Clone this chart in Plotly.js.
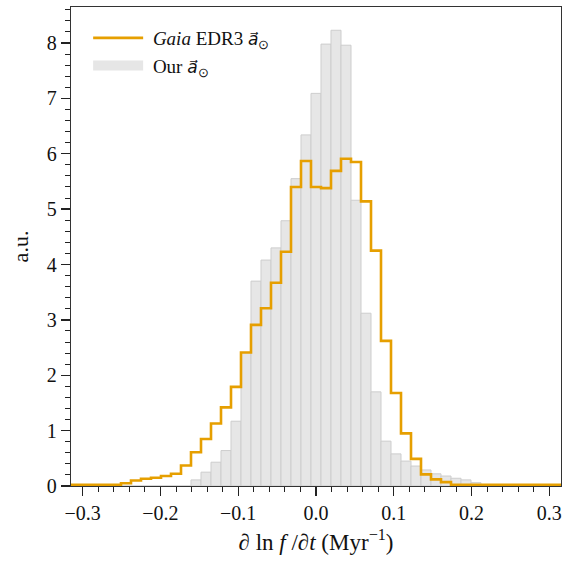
<!DOCTYPE html>
<html>
<head>
<meta charset="utf-8">
<script src="https://cdn.plot.ly/plotly-3.0.1.min.js"></script>
<style>html,body{margin:0;padding:0;background:#fff;}#chart{width:566px;height:563px;}</style>
</head>
<body>
<div id="chart"></div>
<script>
// Histogram binning (49 equal bins across the range)
const binStart = -0.315;
const binEnd = 0.315;
const nBins = 49;

// "Our a_sun" histogram heights (grey bars), one per bin
const ourValues = [
  0, 0, 0, 0, 0, 0, 0, 0, 0, 0,
  0, 0, 0.11, 0.25, 0.43, 0.64, 1.17, 2.41, 3.70, 4.08,
  4.30, 4.79, 5.55, 6.34, 7.09, 7.98, 8.23, 7.96, 5.16, 3.12,
  1.70, 0.81, 0.58, 0.45, 0.36, 0.29, 0.22, 0.18, 0.14, 0.11,
  0.06, 0.02, 0, 0, 0, 0, 0, 0, 0
];

// "Gaia EDR3 a_sun" histogram heights (orange step), one per bin
const gaiaValues = [
  0.02, 0.02, 0.02, 0.02, 0.02, 0.05, 0.10, 0.13, 0.15, 0.18,
  0.22, 0.37, 0.61, 0.85, 1.13, 1.42, 1.79, 2.41, 2.91, 3.21,
  3.67, 4.23, 5.40, 5.87, 5.40, 5.38, 5.69, 5.91, 5.85, 5.14,
  4.25, 2.62, 1.68, 0.95, 0.49, 0.21, 0.12, 0.07, 0.02, 0.02,
  0.02, 0.02, 0.02, 0.02, 0.02, 0.02, 0.02, 0.02, 0.02
];

const xTickVals = [-0.3, -0.2, -0.1, 0.0, 0.1, 0.2, 0.3];
const yTickVals = [0, 1, 2, 3, 4, 5, 6, 7, 8];

const vecA = '<span style="font-family:DejaVu Sans;font-style:italic;font-size:17px">a\u20D7</span><sub>\u2299</sub>';
const gaiaName = ' <i>Gaia</i> EDR3 ' + vecA;
const ourName = ' Our ' + vecA;

const binW = (binEnd - binStart) / nBins;
const centers = ourValues.map((_, i) => binStart + (i + 0.5) * binW);
const edges = [];
for (let i = 0; i <= nBins; i++) edges.push(binStart + i * binW);
const stepY = gaiaValues.concat([gaiaValues[gaiaValues.length - 1]]);

const FONT = 'Liberation Serif, Times New Roman, serif';
const ORANGE = '#E69F00';
const GREY = '#e6e6e6';

const traces = [
  {
    type: 'bar',
    x: centers,
    y: ourValues,
    width: binW,
    name: ourName,
    showlegend: false,
    marker: {color: GREY, line: {color: '#cdcdcd', width: 1}},
    hoverinfo: 'x+y'
  },
  {
    // legend swatch for the grey histogram (wide patch like the reference)
    type: 'scatter',
    mode: 'lines',
    x: [null],
    y: [null],
    name: ourName,
    line: {color: GREY, width: 16},
    hoverinfo: 'skip'
  },
  {
    type: 'scatter',
    mode: 'lines',
    x: edges,
    y: stepY,
    name: gaiaName,
    line: {color: ORANGE, width: 2.6, shape: 'hv'},
    hoverinfo: 'x+y'
  }
];

const layout = {
  width: 566,
  height: 563,
  margin: {l: 71, r: 5, t: 7, b: 77},
  paper_bgcolor: '#fff',
  plot_bgcolor: '#fff',
  font: {family: FONT, size: 20, color: '#111'},
  bargap: 0,
  showlegend: true,
  legend: {
    x: 0.035, y: 0.975, xanchor: 'left', yanchor: 'top',
    traceorder: 'reversed',
    bgcolor: 'rgba(255,255,255,0)',
    font: {family: FONT, size: 19, color: '#111'},
    itemwidth: 50,
    tracegroupgap: 4
  },
  xaxis: {
    range: [binStart, binEnd],
    tickvals: xTickVals,
    tickformat: '.1f',
    ticks: 'outside',
    ticklen: 9,
    tickwidth: 1.3,
    tickcolor: '#222',
    showline: true,
    linecolor: '#333',
    linewidth: 1.3,
    mirror: true,
    showgrid: false,
    zeroline: false,
    tickfont: {family: FONT, size: 20, color: '#111'},
    minor: {dtick: 0.02, ticks: 'outside', ticklen: 5, tickwidth: 1, tickcolor: '#222', showgrid: false},
    title: {text: '\u2202 ln <i>f</i> /\u2202<i>t</i> (Myr<sup>\u22121</sup>)', font: {family: FONT, size: 23, color: '#111'}, standoff: 10}
  },
  yaxis: {
    range: [0, 8.65],
    tickvals: yTickVals,
    ticks: 'outside',
    ticklen: 9,
    tickwidth: 1.3,
    tickcolor: '#222',
    showline: true,
    linecolor: '#333',
    linewidth: 1.3,
    mirror: true,
    showgrid: false,
    zeroline: false,
    tickfont: {family: FONT, size: 20, color: '#111'},
    minor: {dtick: 0.2, ticks: 'outside', ticklen: 5, tickwidth: 1, tickcolor: '#222', showgrid: false},
    title: {text: 'a.u.', font: {family: FONT, size: 22, color: '#111'}, standoff: 12}
  }
};

Plotly.newPlot('chart', traces, layout, {displayModeBar: false, staticPlot: true});
</script>
</body>
</html>
